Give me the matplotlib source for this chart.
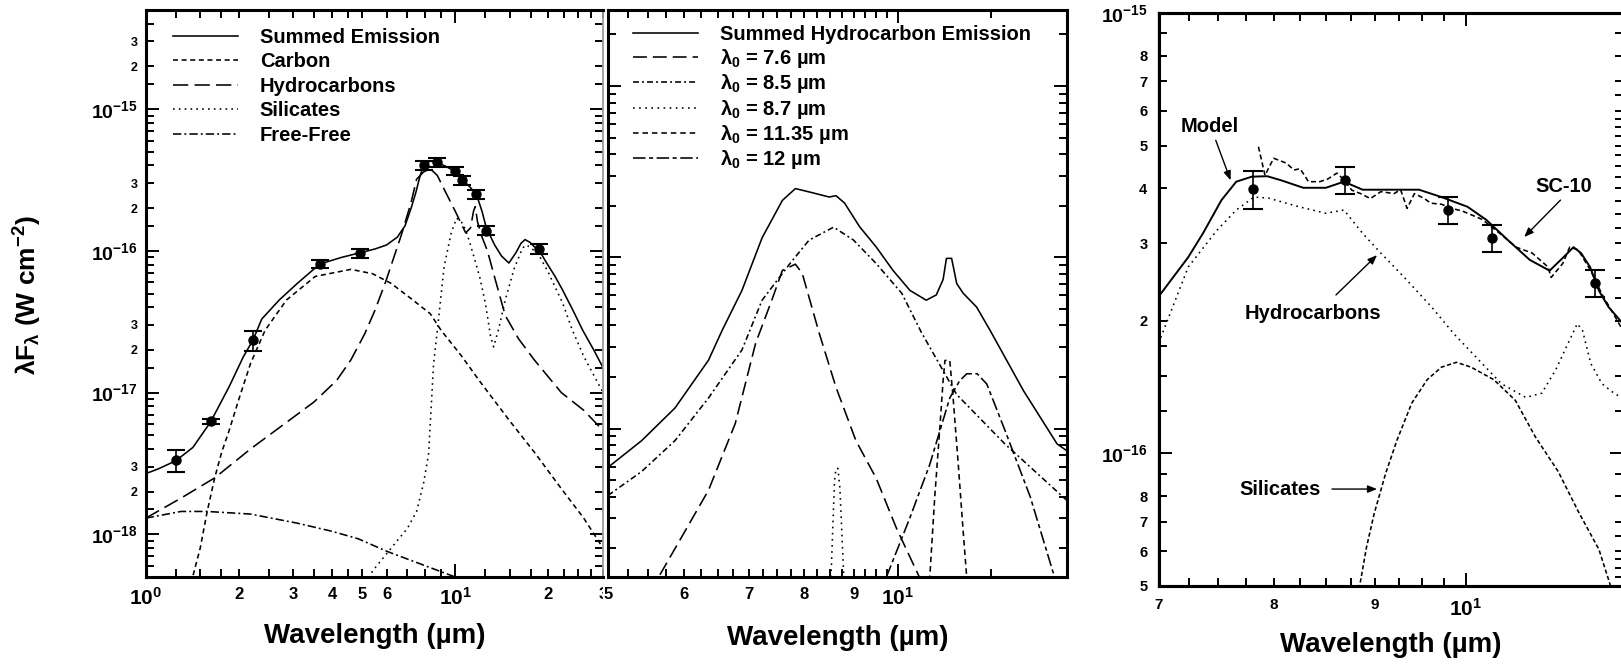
import numpy as np
import matplotlib
matplotlib.use("Agg")
import matplotlib.pyplot as plt

plt.rcParams['font.family'] = ['Liberation Sans', 'DejaVu Sans']
plt.rcParams['font.weight'] = 'bold'
plt.rcParams['axes.labelweight'] = 'bold'
plt.rcParams['mathtext.fontset'] = 'custom'
for k in ('rm', 'it', 'bf', 'sf'):
    plt.rcParams['mathtext.' + k] = 'Liberation Sans:bold'
plt.rcParams['lines.scale_dashes'] = False
plt.rcParams['axes.linewidth'] = 2.2

# ---------------- Panel 1 : full SED ----------------
a_obs_wl = [1.25, 1.62, 2.22, 3.65, 4.93, 7.93, 8.75, 9.95, 10.5, 11.7, 12.6, 18.7]
a_obs_flux = [3.35e-18, 6.27e-18, 2.34e-17, 8.07e-17, 9.66e-17, 4.02e-16, 4.23e-16,
              3.66e-16, 3.15e-16, 2.50e-16, 1.39e-16, 1.03e-16]
a_obs_err = [0.6e-18, 0.25e-18, 0.38e-17, 0.55e-17, 0.7e-17, 0.28e-16, 0.30e-16,
             0.25e-16, 0.22e-16, 0.18e-16, 0.10e-16, 0.08e-16]

a_sum_wl = [1.0, 1.1, 1.25, 1.42, 1.62, 1.86, 2.07, 2.22, 2.37, 2.7, 3.09, 3.65, 4.3, 4.93,
            5.5, 6.0, 6.5, 6.88, 7.2, 7.45, 7.7, 7.9, 8.3, 8.75, 9.3, 9.95, 10.5, 11.1, 11.7,
            12.2, 12.6, 13.4, 14.1, 14.9, 15.7, 16.3, 16.8, 17.4, 18.0, 18.7, 19.6, 21.0,
            22.2, 24.0, 25.8, 28.0, 30.0]
a_sum_flux = [2.68e-18, 2.9e-18, 3.3e-18, 4.1e-18, 6.2e-18, 1.1e-17, 1.8e-17, 2.34e-17,
              3.3e-17, 4.5e-17, 5.9e-17, 8.07e-17, 9.0e-17, 9.7e-17, 1.03e-16, 1.1e-16,
              1.25e-16, 1.5e-16, 2.0e-16, 2.56e-16, 3.4e-16, 4.0e-16, 4.3e-16, 4.2e-16,
              3.95e-16, 3.65e-16, 3.2e-16, 2.85e-16, 2.5e-16, 1.9e-16, 1.45e-16, 1.1e-16,
              9.2e-17, 8.2e-17, 9.7e-17, 1.13e-16, 1.2e-16, 1.15e-16, 1.07e-16, 1.0e-16,
              8.4e-17, 6.6e-17, 5.3e-17, 3.8e-17, 2.75e-17, 2.0e-17, 1.5e-17]

a_carb_wl = [1.40, 1.50, 1.58, 1.67, 1.76, 1.86, 2.0, 2.18, 2.43, 2.85, 3.53, 4.6, 5.4, 6.2,
             7.2, 8.3, 9.0, 10.5, 12.0, 15.0, 18.0, 22.0, 26.0, 30.0]
a_carb_flux = [4.5e-19, 8.0e-19, 1.45e-18, 2.5e-18, 3.8e-18, 5.4e-18, 9.0e-18, 1.6e-17,
               2.75e-17, 4.5e-17, 6.6e-17, 7.4e-17, 6.9e-17, 5.9e-17, 4.6e-17, 3.6e-17,
               2.75e-17, 1.8e-17, 1.2e-17, 6.3e-18, 3.8e-18, 2.1e-18, 1.3e-18, 8.0e-19]

a_hyd_wl = [1.0, 1.3, 1.67, 2.18, 3.0, 3.5, 4.14, 4.6, 5.1, 5.5, 5.95, 6.7, 7.2, 7.5, 7.9,
            8.3, 8.75, 9.3, 10.0, 10.8, 11.2, 11.45, 11.6, 11.8, 12.2, 12.7, 13.4, 14.5,
            16.0, 18.0, 22.0, 26.0, 30.0]
a_hyd_flux = [1.3e-18, 1.8e-18, 2.5e-18, 4.0e-18, 6.7e-18, 8.6e-18, 1.22e-17, 1.7e-17,
              2.6e-17, 3.8e-17, 6.0e-17, 1.3e-16, 2.2e-16, 3.2e-16, 3.6e-16, 3.8e-16,
              3.4e-16, 2.6e-16, 1.9e-16, 1.34e-16, 1.45e-16, 1.9e-16, 2.05e-16, 1.6e-16,
              1.25e-16, 1.0e-16, 6.5e-17, 3.5e-17, 2.4e-17, 1.7e-17, 1.0e-17, 7.5e-18, 5.4e-18]

a_sil_wl = [5.2, 5.4, 6.35, 7.0, 7.5, 7.9, 8.2, 8.51, 8.75, 9.2, 9.7, 10.1, 10.6, 11.0, 11.5,
            12.0, 12.5, 13.0, 13.3, 13.8, 14.5, 15.5, 16.5, 17.0, 18.5, 20.0, 22.2, 23.9,
            26.0, 30.0]
a_sil_flux = [4.5e-19, 5.5e-19, 8.5e-19, 1.1e-18, 1.45e-18, 2.3e-18, 3.7e-18, 1.6e-17,
              2.75e-17, 7.7e-17, 1.34e-16, 1.7e-16, 1.55e-16, 1.25e-16, 9.0e-17, 6.5e-17,
              4.3e-17, 2.5e-17, 2.1e-17, 2.8e-17, 4.5e-17, 7.5e-17, 1.05e-16, 1.1e-16,
              9.6e-17, 7.0e-17, 4.3e-17, 2.75e-17, 1.8e-17, 1.0e-17]

a_ff_wl = [1.0, 1.3, 1.58, 2.18, 3.08, 4.0, 4.86, 6.0, 8.0, 10.0, 11.5]
a_ff_flux = [1.3e-18, 1.45e-18, 1.45e-18, 1.39e-18, 1.2e-18, 1.05e-18, 9.3e-19, 7.6e-19,
             6.0e-19, 5.0e-19, 4.5e-19]

a_legend = ['Summed Emission', 'Carbon', 'Hydrocarbons', 'Silicates', 'Free-Free']

# ---------------- Panel 2 : hydrocarbon bands ----------------
b_sum_wl = [5.0, 5.42, 5.87, 6.36, 6.57, 6.89, 7.23, 7.59, 7.83, 8.09, 8.49, 8.63, 8.81,
            9.13, 9.5, 9.89, 10.3, 10.71, 10.97, 11.15, 11.24, 11.38, 11.52, 11.7, 12.08,
            12.48, 13.52, 14.65, 15.0]
b_sum_flux = [5.94e-18, 8.51e-18, 1.32e-17, 2.51e-17, 3.74e-17, 6.41e-17, 1.3e-16,
              2.15e-16, 2.52e-16, 2.41e-16, 2.25e-16, 2.29e-16, 2.07e-16, 1.51e-16,
              1.15e-16, 8.39e-17, 6.41e-17, 5.62e-17, 6.03e-17, 7.41e-17, 9.86e-17,
              9.86e-17, 7.03e-17, 6.17e-17, 5.13e-17, 3.74e-17, 1.66e-17, 8.13e-18, 7.41e-18]

b_76_wl = [5.55, 5.64, 6.01, 6.36, 6.78, 7.12, 7.4, 7.59, 7.83, 7.96, 8.29, 8.63, 9.05, 9.5,
           9.97, 10.54, 10.7]
b_76_flux = [1.1e-18, 1.35e-18, 2.51e-18, 4.37e-18, 1.07e-17, 3.16e-17, 5.62e-17, 8.39e-17,
             9.12e-17, 8.05e-17, 3.6e-17, 1.74e-17, 8.51e-18, 5.13e-18, 2.63e-18, 1.35e-18,
             1.1e-18]

b_85_wl = [5.0, 5.42, 5.87, 6.36, 6.89, 7.23, 7.72, 8.09, 8.58, 9.0, 9.5, 10.1, 10.59, 11.52,
           12.93, 15.0]
b_85_flux = [4.07e-18, 5.62e-18, 8.51e-18, 1.51e-17, 2.88e-17, 5.62e-17, 9.12e-17, 1.26e-16,
             1.5e-16, 1.26e-16, 9.2e-17, 6.17e-17, 3.63e-17, 1.58e-17, 8.13e-18, 3.8e-18]

b_87_wl = [8.48, 8.52, 8.56, 8.6, 8.63, 8.67, 8.71, 8.75, 8.8, 8.84]
b_87_flux = [9e-19, 1.2e-18, 2.5e-18, 5.0e-18, 5.85e-18, 5.85e-18, 4.5e-18, 2.5e-18,
             1.2e-18, 9e-19]

b_1135_wl = [10.75, 10.8, 10.93, 11.06, 11.15, 11.2, 11.33, 11.42, 11.56, 11.7, 11.8, 11.85]
b_1135_flux = [1.0e-18, 1.35e-18, 4.0e-18, 9.8e-18, 1.9e-17, 2.5e-17, 2.5e-17, 1.52e-17,
               6.3e-18, 2.5e-18, 1.35e-18, 1.0e-18]

b_12_wl = [9.6, 9.73, 10.3, 10.8, 11.33, 11.6, 11.8, 12.1, 12.38, 12.93, 13.74, 14.53, 14.8]
b_12_flux = [1.0e-18, 1.35e-18, 3.02e-18, 6.17e-18, 1.51e-17, 1.9e-17, 2.09e-17, 2.09e-17,
             1.82e-17, 9.77e-18, 3.98e-18, 1.41e-18, 1.0e-18]

b_legend = ['Summed Hydrocarbon Emission', r'$\lambda_0$ = 7.6 µm', r'$\lambda_0$ = 8.5 µm',
            r'$\lambda_0$ = 8.7 µm', r'$\lambda_0$ = 11.35 µm', r'$\lambda_0$ = 12 µm']

# ---------------- Panel 3 : SC-10 comparison ----------------
c_obs_wl = [7.81, 8.69, 9.79, 10.31, 11.62]
c_obs_flux = [3.98e-16, 4.17e-16, 3.57e-16, 3.08e-16, 2.44e-16]
c_obs_err = [0.39e-16, 0.29e-16, 0.25e-16, 0.22e-16, 0.17e-16]

c_model_wl = [7.0, 7.245, 7.37, 7.53, 7.66, 7.80, 7.94, 8.07, 8.28, 8.50, 8.68, 8.87, 9.18,
              9.47, 9.72, 10.02, 10.24, 10.5, 10.77, 11.02, 11.2, 11.33, 11.43, 11.55, 11.67,
              11.8, 12.0]
c_model_flux = [2.27e-16, 2.79e-16, 3.16e-16, 3.76e-16, 4.14e-16, 4.25e-16, 4.26e-16,
                4.17e-16, 4.01e-16, 4.01e-16, 4.14e-16, 3.97e-16, 3.97e-16, 3.97e-16,
                3.82e-16, 3.63e-16, 3.39e-16, 3.05e-16, 2.75e-16, 2.6e-16, 2.79e-16,
                2.94e-16, 2.85e-16, 2.65e-16, 2.34e-16, 2.15e-16, 1.97e-16]

c_sc10_wl = [7.86, 7.92, 8.0, 8.12, 8.19, 8.25, 8.33, 8.44, 8.52, 8.61, 8.67, 8.76, 8.85,
             8.95, 9.06, 9.2, 9.27, 9.34, 9.42, 9.53, 9.6, 9.72, 9.84, 9.96, 10.19, 10.4,
             10.6, 10.8, 11.0, 11.04, 11.19, 11.28, 11.39, 11.56, 11.71, 11.9, 12.0]
c_sc10_flux = [4.97e-16, 4.28e-16, 4.68e-16, 4.56e-16, 4.4e-16, 4.43e-16, 4.14e-16, 4.14e-16,
               4.2e-16, 4.33e-16, 4.2e-16, 3.96e-16, 3.89e-16, 3.79e-16, 3.93e-16, 3.89e-16,
               3.97e-16, 3.6e-16, 3.89e-16, 3.79e-16, 3.7e-16, 3.68e-16, 3.6e-16, 3.55e-16,
               3.4e-16, 3.16e-16, 2.94e-16, 2.85e-16, 2.65e-16, 2.51e-16, 2.7e-16, 2.94e-16,
               2.9e-16, 2.6e-16, 2.3e-16, 2.03e-16, 1.9e-16]

c_hyd_wl = [7.0, 7.245, 7.49, 7.66, 7.82, 7.95, 8.24, 8.5, 8.68, 8.87, 9.06, 9.31, 9.61,
            9.86, 10.19, 10.42, 10.72, 10.92, 11.1, 11.24, 11.38, 11.45, 11.56, 11.71,
            11.85, 12.0]
c_hyd_flux = [1.78e-16, 2.65e-16, 3.21e-16, 3.57e-16, 3.82e-16, 3.8e-16, 3.63e-16, 3.51e-16,
              3.57e-16, 3.16e-16, 2.85e-16, 2.51e-16, 2.15e-16, 1.87e-16, 1.6e-16, 1.44e-16,
              1.34e-16, 1.37e-16, 1.55e-16, 1.75e-16, 1.97e-16, 1.9e-16, 1.6e-16, 1.44e-16,
              1.38e-16, 1.33e-16]

c_sil_wl = [8.8, 8.84, 8.91, 8.99, 9.11, 9.23, 9.39, 9.56, 9.72, 9.89, 10.06, 10.33, 10.59,
            10.84, 11.13, 11.39, 11.67, 11.82, 11.86]
c_sil_flux = [4.6e-17, 5.0e-17, 6.12e-17, 7.3e-17, 9.0e-17, 1.07e-16, 1.3e-16, 1.47e-16,
              1.57e-16, 1.61e-16, 1.57e-16, 1.47e-16, 1.32e-16, 1.09e-16, 9.1e-17, 7.4e-17,
              6.05e-17, 5.05e-17, 4.8e-17]

c_labels = ['Model', 'Hydrocarbons', 'SC-10', 'Silicates']
c_label_xy = [(7.43, 5.53e-16), (8.37, 2.08e-16), (11.2, 4.03e-16), (8.06, 8.3e-17)]
c_arrow_from = [(7.48, 5.14e-16), (8.60, 2.29e-16), (11.16, 3.76e-16), (8.56, 8.3e-17)]
c_arrow_to = [(7.61, 4.17e-16), (9.02, 2.82e-16), (10.70, 3.10e-16), (9.02, 8.3e-17)]

xlabel_text = 'Wavelength (µm)'
ylabel_text = r'$\lambda F_\lambda$ (W cm$^{-2}$)'

# ---------------- figure ----------------
W, H = 1621, 665
fig = plt.figure(figsize=(W / 100, H / 100), dpi=100)


def px_axes(l, r, t, b):
    return fig.add_axes([l / W, 1 - b / H, (r - l) / W, (b - t) / H])


ax1 = px_axes(145.7, 603, 10, 577)
ax2 = px_axes(608, 1067, 10, 577)
ax3 = px_axes(1158.6, 1623, 13, 586)

LW = 1.15
K = 'black'


def base_style(ax):
    ax.set_xscale('log')
    ax.set_yscale('log')
    ax.tick_params(which='both', direction='in', top=True, right=True, width=1.4, colors=K)
    ax.tick_params(which='major', length=9.5, labelsize=14, pad=6)
    ax.tick_params(which='minor', length=6, pad=6)
    ax.tick_params(axis='x', which='major', labelsize=15)


def decade_minors(lo, hi, mults):
    out = []
    for d in range(-20, -13):
        for m in mults:
            v = m * 10.0 ** d
            if lo * 0.999 <= v <= hi * 1.001:
                out.append(v)
    return out


# ---- panel 1
base_style(ax1)
ax1.plot(a_sum_wl, a_sum_flux, color=K, lw=LW, label=a_legend[0])
ax1.plot(a_carb_wl, a_carb_flux, color=K, lw=LW, dashes=(3.6, 2.6), label=a_legend[1])
ax1.plot(a_hyd_wl, a_hyd_flux, color=K, lw=LW, dashes=(11, 4.5), label=a_legend[2])
ax1.plot(a_sil_wl, a_sil_flux, color=K, lw=LW, dashes=(1.2, 3.0), label=a_legend[3])
ax1.plot(a_ff_wl, a_ff_flux, color=K, lw=LW, dashes=(6, 2.2, 1.4, 2.2), label=a_legend[4])
ax1.errorbar(a_obs_wl, a_obs_flux, yerr=a_obs_err, fmt='o', color=K, ms=6.5, capsize=6.5,
             elinewidth=1.2, capthick=1.5, zorder=5)
ax1.set_xlim(1, 30)
ax1.set_ylim(5e-19, 5e-15)
ax1.set_xticks([1, 10], labels=[r'$10^{0}$', r'$10^{1}$'])
a_xminor = [1.25, 1.5, 1.75, 2, 2.5, 3, 3.5, 4, 4.5, 5, 6, 7, 8, 9, 12.5, 15, 17.5, 20, 22.5,
            25, 27.5, 30]
a_xminor_lab = {2: '2', 3: '3', 4: '4', 5: '5', 6: '6', 20: '2', 30: '3'}
ax1.set_xticks(a_xminor, labels=[a_xminor_lab.get(v, '') for v in a_xminor], minor=True)
ax1.set_yticks([1e-18, 1e-17, 1e-16, 1e-15],
               labels=[r'$10^{-18}$', r'$10^{-17}$', r'$10^{-16}$', r'$10^{-15}$'])
a_yminor = decade_minors(5e-19, 5e-15, [1.5, 2, 3, 4, 5, 6, 7, 8, 9])
a_yminor_lab = []
for v in a_yminor:
    m = v / 10.0 ** np.floor(np.log10(v) + 1e-9)
    a_yminor_lab.append('2' if abs(m - 2) < 1e-6 else ('3' if abs(m - 3) < 1e-6 else ''))
ax1.set_yticks(a_yminor, labels=a_yminor_lab, minor=True)
ax1.tick_params(axis='x', which='minor', labelsize=12, pad=7)
ax1.tick_params(axis='x', which='major', pad=7)
ax1.tick_params(axis='y', which='minor', labelsize=9)
ax1.spines['right'].set_color('#9a9a9a')
ax1.spines['right'].set_linewidth(1.3)
ax1.legend(loc='upper left', bbox_to_anchor=(0.06, 0.969), frameon=False, fontsize=14.5,
           handlelength=3.2, handletextpad=1.1, labelspacing=0.28, borderaxespad=0,
           borderpad=0)
ax1.set_xlabel(xlabel_text, fontsize=20)
ax1.xaxis.set_label_coords(0.5, -0.104)
ax1.xaxis.label.set_va('center')
ax1.set_ylabel(ylabel_text, fontsize=19)
ax1.yaxis.set_label_coords(-0.2574, 0.4974)
ax1.yaxis.label.set_va('center')
ax1.yaxis.label.set_ha('center')

# ---- panel 2
base_style(ax2)
ax2.plot(b_sum_wl, b_sum_flux, color=K, lw=LW, label=b_legend[0])
ax2.plot(b_76_wl, b_76_flux, color=K, lw=LW, dashes=(10, 4.3), label=b_legend[1])
ax2.plot(b_85_wl, b_85_flux, color=K, lw=LW, dashes=(4.3, 2.2, 1.4, 2.2), label=b_legend[2])
ax2.plot(b_87_wl, b_87_flux, color=K, lw=LW, dashes=(1.2, 3.2), label=b_legend[3])
ax2.plot(b_1135_wl, b_1135_flux, color=K, lw=LW, dashes=(4.0, 2.8), label=b_legend[4])
ax2.plot(b_12_wl, b_12_flux, color=K, lw=LW, dashes=(9, 2.5, 3, 2.5), label=b_legend[5])
ax2.set_xlim(5, 15)
ax2.set_ylim(1.36e-18, 2.78e-15)
ax2.set_xticks([10], labels=[r'$10^{1}$'])
b_xminor = list(np.arange(5.0, 9.9, 0.25)) + [12.5, 15]
b_xminor_lab = {5.0: '5', 6.0: '6', 7.0: '7', 8.0: '8', 9.0: '9'}
ax2.set_xticks(b_xminor, labels=[b_xminor_lab.get(round(v, 2), '') for v in b_xminor],
               minor=True)
ax2.set_yticks([1e-17, 1e-16, 1e-15], labels=['', '', ''])
b_yminor = decade_minors(1.36e-18, 2.78e-15, [2, 3, 4, 5, 6, 7, 8, 9])
ax2.set_yticks(b_yminor, labels=[''] * len(b_yminor), minor=True)
ax2.tick_params(axis='x', which='minor', labelsize=12, pad=7)
ax2.tick_params(axis='x', which='major', pad=7)
first_lab = ax2.xaxis.get_minorticklabels()[0]
first_lab.set_bbox(dict(facecolor='white', edgecolor='none', pad=0.6))
ax2.legend(loc='upper left', bbox_to_anchor=(0.055, 0.973), frameon=False, fontsize=14.5,
           handlelength=3.2, handletextpad=1.1, labelspacing=0.12, borderaxespad=0,
           borderpad=0)
ax2.set_xlabel(xlabel_text, fontsize=20)
ax2.xaxis.set_label_coords(0.5, -0.1076)
ax2.xaxis.label.set_va('center')

# ---- panel 3
base_style(ax3)
ax3.plot(c_model_wl, c_model_flux, color=K, lw=1.4)
ax3.plot(c_sc10_wl, c_sc10_flux, color=K, lw=LW, dashes=(3.6, 2.2))
ax3.plot(c_hyd_wl, c_hyd_flux, color=K, lw=LW, dashes=(1.2, 3.0))
ax3.plot(c_sil_wl, c_sil_flux, color=K, lw=LW, dashes=(3.0, 1.8))
ax3.errorbar(c_obs_wl, c_obs_flux, yerr=c_obs_err, fmt='o', color=K, ms=6.5, capsize=7.5,
             elinewidth=1.2, capthick=1.5, zorder=5)
ax3.set_xlim(7, 12)
ax3.set_ylim(5e-17, 1e-15)
ax3.set_xticks([10], labels=[r'$10^{1}$'])
c_xminor = list(np.arange(7.0, 9.9, 0.25))
c_xminor_lab = {7.0: '7', 8.0: '8', 9.0: '9'}
ax3.set_xticks(c_xminor, labels=[c_xminor_lab.get(round(v, 2), '') for v in c_xminor],
               minor=True)
ax3.set_yticks([1e-16, 1e-15], labels=[r'$10^{-16}$', r'$10^{-15}$'])
c_yminor = decade_minors(5e-17, 1e-15, [1.25, 1.5, 1.75, 2, 3, 4, 5, 6, 7, 8, 9])
c_yminor_lab = []
for v in c_yminor:
    m = v / 10.0 ** np.floor(np.log10(v) + 1e-9)
    mi = int(round(m))
    c_yminor_lab.append(str(mi) if abs(m - mi) < 1e-6 and 2 <= mi <= 8 else '')
ax3.set_yticks(c_yminor, labels=c_yminor_lab, minor=True)
ax3.tick_params(axis='x', which='both', pad=8.5)
ax3.tick_params(axis='x', which='minor', labelsize=11)
ax3.tick_params(axis='y', which='minor', labelsize=10.5)
ax3.tick_params(axis='y', which='both', right=False, pad=8)
ax3.spines['left'].set_linewidth(1.6)
ax3r = ax3.twinx()
ax3r.set_yscale('log')
ax3r.set_ylim(5e-17, 1e-15)
ax3r.set_yticks([1e-16, 1e-15], labels=['', ''])
c_rminor = decade_minors(5e-17, 1e-15, [1.25, 1.5, 1.75, 2, 2.25, 2.5, 2.75, 3, 3.25, 3.5,
                                        3.75, 4, 4.25, 4.5, 4.75, 5, 5.25, 5.5, 5.75, 6,
                                        6.5, 7, 8, 9])
ax3r.set_yticks(c_rminor, labels=[''] * len(c_rminor), minor=True)
ax3r.tick_params(which='both', direction='in', right=True, left=False, width=1.4)
ax3r.tick_params(which='major', length=9.5)
ax3r.tick_params(which='minor', length=6)
for txt, xy in zip(c_labels, c_label_xy):
    ax3.text(xy[0], xy[1], txt, fontsize=14.5, ha='center', va='center')
for p0, p1 in zip(c_arrow_from, c_arrow_to):
    ax3.annotate('', xy=p1, xytext=p0,
                 arrowprops=dict(arrowstyle='-|>,head_length=0.55,head_width=0.22',
                                 lw=1.0, color=K, shrinkA=0, shrinkB=0),
                 )
ax3.set_xlabel(xlabel_text, fontsize=20)
ax3.xaxis.set_label_coords(0.5, -0.103)
ax3.xaxis.label.set_va('center')

fig.savefig('out.png', dpi=100)
